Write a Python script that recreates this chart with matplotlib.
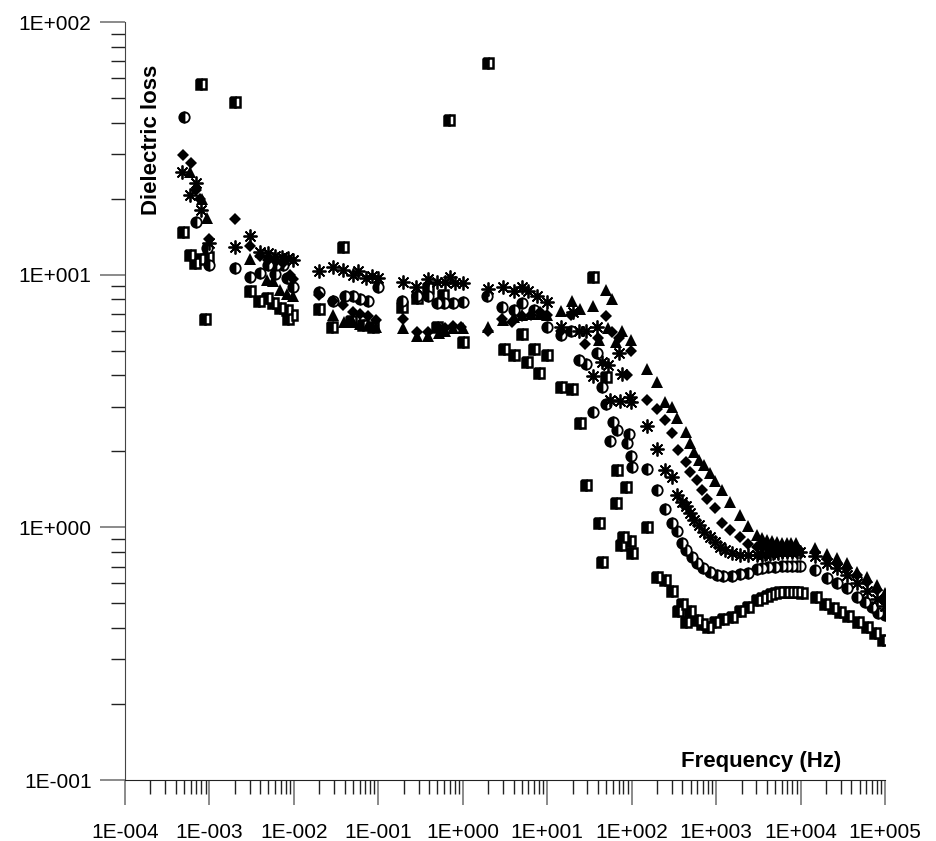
import math
import matplotlib.pyplot as plt
from matplotlib.ticker import LogLocator, FuncFormatter, NullFormatter

plt.rcParams['font.family'] = ['Liberation Sans', 'DejaVu Sans']

# 半填充方块
sq_f = [4.9e-4, 5.9e-4, 6.8e-4, 7.7e-4, 7.9e-4, 8.8e-4, 9.7e-4,
        2e-3, 3e-3, 3.9e-3, 4.8e-3, 5.7e-3, 6.8e-3, 8.2e-3, 8.6e-3, 9.4e-3,
        2e-2, 2.8e-2, 3.8e-2, 4.8e-2, 6.6e-2, 8.7e-2,
        0.189, 0.29, 0.39, 0.49, 0.59, 0.69, 1.01,
        1.99, 3.1, 4.0, 5.0, 5.8, 7.0, 7.9, 9.9,
        14.5, 19.6, 24.6, 29, 35, 41, 45, 50, 65, 68, 74, 78, 85, 96, 100,
        150, 198, 248, 298, 357, 392, 441, 491, 590, 676, 809, 971, 1219, 1531,
        1919, 2410, 3027, 3500, 3974, 4500, 4985, 5500, 6550, 7300, 8220, 9200, 10300,
        15250, 19500, 24450, 29360, 36800, 48300, 60800, 76200, 95500]
sq_v = [14.7, 12.0, 11.1, 11.5, 56.7, 6.7, 11.8,
        48.4, 8.6, 7.9, 8.1, 7.7, 7.4, 7.25, 6.7, 6.9,
        7.3, 6.2, 12.9, 6.56, 6.35, 6.2,
        7.47, 8.07, 8.89, 6.2, 8.3, 40.9, 5.43,
        68.8, 5.07, 4.8, 5.8, 4.5, 5.07, 4.1, 4.8,
        3.6, 3.53, 2.58, 1.47, 9.8, 1.04, 0.73, 3.93, 1.25, 1.68, 0.85, 0.92, 1.44, 0.88, 0.79,
        1.0, 0.637, 0.618, 0.561, 0.468, 0.497, 0.423, 0.468, 0.43, 0.414, 0.404, 0.423, 0.432, 0.443,
        0.468, 0.485, 0.515, 0.525, 0.535, 0.543, 0.551, 0.553, 0.556, 0.556, 0.556, 0.553, 0.548,
        0.528, 0.497, 0.478, 0.463, 0.446, 0.423, 0.404, 0.381, 0.358]

# 半填充圆
ci_f = [5.0e-4, 6.9e-4, 9.3e-4, 1e-3,
        2e-3, 3e-3, 4e-3, 4.9e-3, 6e-3, 6.2e-3, 7.5e-3, 8.2e-3, 9.8e-3,
        2e-2, 2.9e-2, 4e-2, 5e-2, 6e-2, 7.6e-2, 0.1,
        0.19, 0.29, 0.39, 0.49, 0.6, 0.77, 1.0,
        1.92, 2.9, 4.0, 5.0, 6.9, 9.9,
        14.6, 19.3, 24, 29, 35, 39, 44, 50, 55, 60, 68, 87, 94, 97, 100,
        150, 198, 248, 298, 347, 392, 441, 514, 590, 706, 847, 1017, 1217, 1531,
        1919, 2410, 3027, 3500, 4150, 5000, 5980, 7000, 7870, 9000, 9860,
        14800, 20400, 26800, 35200, 46200, 58000, 69700, 83400, 100000]
ci_v = [42.2, 16.1, 12.7, 10.9,
        10.6, 9.8, 10.2, 10.9, 10.1, 10.9, 10.9, 9.7, 8.96,
        8.57, 7.9, 8.2, 8.2, 8.05, 7.9, 8.96,
        7.9, 8.2, 8.2, 7.75, 7.75, 7.75, 7.8,
        8.2, 7.47, 7.25, 7.7, 7.25, 6.2,
        5.77, 6.0, 4.6, 4.42, 2.86, 4.88, 3.59, 3.07, 2.2, 2.62, 2.42, 2.15, 2.34, 1.92, 1.73,
        1.7, 1.41, 1.18, 1.04, 0.967, 0.864, 0.813, 0.765, 0.72, 0.692, 0.667, 0.648, 0.642, 0.642,
        0.653, 0.658, 0.684, 0.69, 0.698, 0.70, 0.703, 0.703, 0.703, 0.703, 0.703,
        0.678, 0.629, 0.604, 0.574, 0.531, 0.508, 0.485, 0.46, 0.45]

# 星号
st_f = [4.8e-4, 5.9e-4, 6.9e-4, 7.9e-4, 1e-3,
        2e-3, 3e-3, 4e-3, 5e-3, 6e-3, 7.2e-3, 8.6e-3, 9.8e-3,
        2e-2, 2.9e-2, 3.8e-2, 5e-2, 5.7e-2, 7.2e-2, 8.4e-2, 0.1,
        0.197, 0.28, 0.39, 0.49, 0.62, 0.7, 0.82, 1.0,
        1.98, 3.0, 4.0, 5.0, 6.0, 7.5, 9.9,
        14.6, 20, 24, 29, 35, 39, 45, 52, 55, 70, 72, 77, 95, 97,
        150, 198, 248, 298, 347, 392, 441, 486, 549, 629, 725, 847, 971, 1110, 1280, 1531,
        1919, 2410, 3027, 3500, 3810, 4300, 4780, 5400, 5980, 7000, 7870, 9000, 9860,
        14800, 20400, 26800, 35200, 46200, 60800, 79600, 100000]
st_v = [25.4, 20.7, 23.0, 18.0, 13.3,
        12.9, 14.2, 12.3, 12.2, 11.9, 11.8, 11.6, 11.4,
        10.3, 10.7, 10.4, 9.94, 10.3, 9.7, 9.9, 9.7,
        9.38, 8.96, 9.6, 9.38, 9.38, 9.82, 9.3, 9.3,
        8.8, 8.9, 8.6, 8.9, 8.6, 8.2, 7.8,
        6.23, 7.1, 6.0, 6.0, 3.96, 6.2, 4.5, 4.4, 3.2, 4.88, 3.16, 4.05, 3.28, 3.14,
        2.52, 2.04, 1.69, 1.58, 1.34, 1.26, 1.21, 1.14, 1.07, 1.02, 0.96, 0.918, 0.877, 0.838, 0.813, 0.789,
        0.777, 0.777, 0.777, 0.78, 0.784, 0.787, 0.789, 0.795, 0.80, 0.80, 0.80, 0.80, 0.80,
        0.77, 0.72, 0.69, 0.65, 0.60, 0.56, 0.52, 0.49]

# 菱形
di_f = [4.9e-4, 6e-4, 6.9e-4, 7.7e-4, 1e-3,
        2e-3, 3e-3, 4e-3, 5e-3, 6.2e-3, 7.5e-3, 9e-3, 9.8e-3,
        2e-2, 2.9e-2, 3.8e-2, 5e-2, 6e-2, 7.6e-2, 9.5e-2,
        0.194, 0.29, 0.39, 0.52, 0.62, 0.77, 0.96,
        2.0, 2.9, 3.8, 5.0, 6.5, 8.3, 10,
        14.6, 19.3, 28, 40, 50, 58, 71, 87, 97,
        150, 198, 248, 298, 357, 441, 486, 590, 676, 775, 971, 1170, 1470,
        1919, 2410, 3027, 3500, 3974, 4600, 5200, 6000, 6820, 7800, 8950,
        14800, 20400, 26800, 35200, 46200, 60800, 79600, 100000]
di_v = [29.8, 27.7, 21.6, 20.0, 13.9,
        16.6, 13.0, 11.9, 11.4, 11.3, 11.1, 10.0, 9.6,
        8.3, 7.9, 7.6, 7.1, 7.0, 6.85, 6.6,
        6.65, 5.95, 5.95, 6.15, 6.15, 6.28, 6.2,
        6.0, 6.7, 6.5, 6.85, 6.95, 7.1, 6.95,
        6.0, 6.95, 5.3, 5.6, 6.85, 5.95, 5.6, 4.0, 4.97,
        3.18, 2.93, 2.65, 2.36, 2.03, 1.82, 1.66, 1.54, 1.41, 1.30, 1.19, 1.04, 0.976,
        0.913, 0.859, 0.838, 0.838, 0.838, 0.838, 0.838, 0.838, 0.838, 0.838, 0.838,
        0.80, 0.747, 0.72, 0.688, 0.648, 0.609, 0.565, 0.516]

# 三角形
tr_f = [5.9e-4, 8.1e-4, 9.4e-4,
        3e-3, 4.8e-3, 5.7e-3, 6.8e-3, 8.2e-3, 9.8e-3,
        2.9e-2, 3.9e-2, 5e-2, 6e-2, 7.6e-2, 9.5e-2,
        0.197, 0.29, 0.39, 0.52, 0.62, 0.77, 1.0,
        2.0, 3.0, 4.0, 5.0, 6.5, 8.3, 10,
        14.6, 19.6, 24.5, 35, 41, 50, 52, 59, 66, 77, 97,
        150, 198, 248, 298, 340, 441, 486, 549, 629, 725, 847, 971, 1170, 1470,
        1919, 2410, 3027, 3500, 3974, 4600, 5200, 6000, 6820, 7800, 8950,
        14800, 20400, 26800, 35200, 46200, 60800, 79600, 100000]
tr_v = [25.5, 20.0, 16.7,
        11.5, 9.5, 9.4, 8.7, 8.4, 8.2,
        6.9, 6.5, 6.5, 6.4, 6.3, 6.23,
        6.15, 5.7, 5.7, 5.9, 6.0, 6.15, 6.15,
        6.2, 6.6, 6.8, 6.9, 7.0, 7.0, 6.9,
        7.2, 7.9, 7.3, 7.5, 5.5, 8.7, 6.15, 8.0, 5.43, 6.0, 5.5,
        4.22, 3.77, 3.14, 3.0, 2.70, 2.39, 2.15, 1.99, 1.85, 1.77, 1.64, 1.52, 1.41, 1.26,
        1.12, 1.01, 0.932, 0.91, 0.89, 0.88, 0.875, 0.87, 0.865, 0.865, 0.865,
        0.826, 0.784, 0.754, 0.72, 0.667, 0.637, 0.591, 0.548]

fig = plt.figure(figsize=(9.36, 8.41), dpi=100)
ax = fig.add_axes([0.1335, 0.0725, 0.812, 0.9013])

ms = 7.5
ax.plot(sq_f, sq_v, linestyle='none', marker='s', markersize=ms, fillstyle='left',
        markerfacecolor='black', markerfacecoloralt='white', markeredgecolor='black', markeredgewidth=1.8)
ax.plot(ci_f, ci_v, linestyle='none', marker='o', markersize=ms, fillstyle='left',
        markerfacecolor='black', markerfacecoloralt='white', markeredgecolor='black', markeredgewidth=1.3)
ax.plot(st_f, st_v, linestyle='none', marker=(8, 2, 0), markersize=10,
        markeredgecolor='black', markeredgewidth=1.3)
ax.plot(di_f, di_v, linestyle='none', marker='D', markersize=ms - 1.2,
        color='black', markeredgewidth=0)
ax.plot(tr_f, tr_v, linestyle='none', marker='^', markersize=ms + 0.5,
        color='black', markeredgewidth=0)

ax.set_xscale('log')
ax.set_yscale('log')
ax.set_xlim(1e-4, 1e5)
ax.set_ylim(0.1, 100)

# 坐标轴样式
ax.spines['top'].set_visible(False)
ax.spines['right'].set_visible(False)
ax.spines['left'].set_color('#444444')
ax.spines['bottom'].set_color('#222222')

fmt = FuncFormatter(lambda v, p: '1E%+04d' % round(math.log10(v)))
for axis in (ax.xaxis, ax.yaxis):
    axis.set_major_locator(LogLocator(base=10, numticks=20))
    axis.set_minor_locator(LogLocator(base=10, subs=range(2, 10), numticks=20))
    axis.set_major_formatter(fmt)
    axis.set_minor_formatter(NullFormatter())

ax.tick_params(axis='both', which='major', direction='out', length=18, width=1.2,
               color='#777777', labelsize=15, pad=6)
ax.tick_params(axis='both', which='minor', direction='out', length=10, width=1.0,
               color='#222222')
ax.tick_params(axis='x', which='major', pad=13)

ax.text(0.0355, 0.845, 'Dielectric loss', transform=ax.transAxes, rotation=90,
        ha='center', va='center', fontsize=16, fontweight='bold')
ax.text(0.837, 0.024, 'Frequency (Hz)', transform=ax.transAxes,
        ha='center', va='center', fontsize=16, fontweight='bold')

plt.savefig('out.png', dpi=100)
